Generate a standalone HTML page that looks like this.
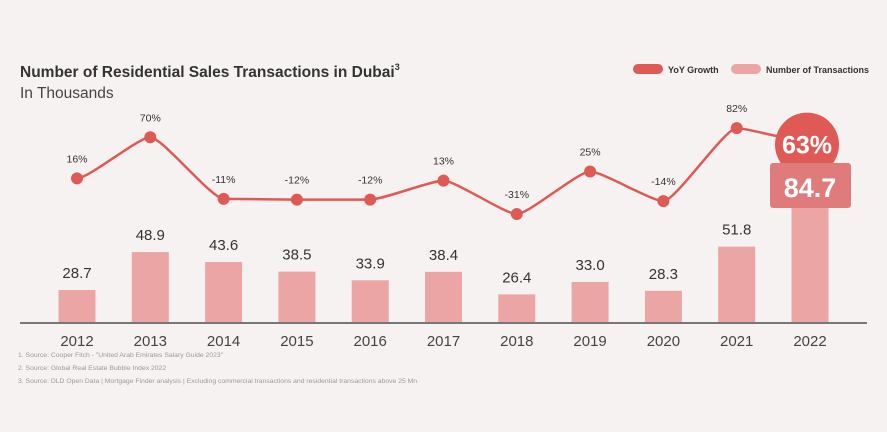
<!DOCTYPE html>
<html><head><meta charset="utf-8"><style>
body{margin:0;background:#f7f2f2;font-family:"Liberation Sans",sans-serif;}
svg{display:block}
</style></head><body>
<svg id="c" width="887" height="432" viewBox="0 0 887 432">
<rect width="887" height="432" fill="#f7f2f2"/>
<text x="20" y="77" font-size="15.5" font-weight="bold" fill="#333">Number of Residential Sales Transactions in Dubai<tspan font-size="9" dy="-7">3</tspan></text>
<text x="20" y="98" font-size="15.5" fill="#444">In Thousands</text>
<g>
<rect x="633" y="64" width="30" height="10" rx="5" fill="#e05a55"/>
<text x="668" y="73" font-size="9" font-weight="bold" fill="#333">YoY Growth</text>
<rect x="731" y="64" width="30" height="10" rx="5" fill="#eba5a5"/>
<text x="766" y="73" font-size="9" font-weight="bold" fill="#333">Number of Transactions</text>
</g>
<g id="bars"></g><g id="line"></g>
<line x1="20" y1="323" x2="867" y2="323" stroke="#777" stroke-width="2"/>
<g id="xl"></g>
<g font-size="6.8" fill="#999">
<text x="18" y="357">1. Source: Cooper Fitch - "United Arab Emirates Salary Guide 2023"</text>
<text x="18" y="370">2. Source: Global Real Estate Bubble Index 2022</text>
<text x="18" y="383">3. Source: DLD Open Data | Mortgage Finder analysis | Excluding commercial transactions and residential transactions above 25 Mn</text>
</g>
</svg>
<script>
const years=["2012","2013","2014","2015","2016","2017","2018","2019","2020","2021","2022"];
const transactions=[28.7,48.9,43.6,38.5,33.9,38.4,26.4,33.0,28.3,51.8,84.7];
const growth=[16,70,-11,-12,-12,13,-31,25,-14,82,63];
const NS="http://www.w3.org/2000/svg";
const xc=i=>77+i*73.3;
const bh=v=>Math.max(0,1.88*v-21);
const yg=v=>190.5-0.76*v;
function mk(t,a,p){const e=document.createElementNS(NS,t);for(const k in a)e.setAttribute(k,a[k]);p.appendChild(e);return e;}
const B=document.getElementById('bars'),L=document.getElementById('line'),X=document.getElementById('xl');
const last=years.length-1;
years.forEach((y,i)=>{
 const h=bh(transactions[i]);
 const r=mk('rect',{x:xc(i)-18.5,y:323-h,width:37,height:h,fill:'#eba5a5'},B);
 
 
 const xt=mk('text',{x:xc(i),y:346,'font-size':15,fill:'#444','text-anchor':'middle'},X);xt.textContent=y;
 
 
 if(i<last){
  const t=mk('text',{x:xc(i),y:323-h-12,'font-size':15,fill:'#333','text-anchor':'middle'},B);t.textContent=transactions[i].toFixed(1);
  
  
 }
});
let d='';
growth.forEach((g,i)=>{const x=xc(i),y=yg(g);if(i==0)d+='M'+x+' '+y;else{const px=xc(i-1),py=yg(growth[i-1]);d+=` C${px+12} ${py} ${x-12} ${y} ${x} ${y}`;}});
const p=mk('path',{d:d,fill:'none',stroke:'#e05a55','stroke-width':2.5},L);


growth.forEach((g,i)=>{
 if(i==last)return;
 const c=mk('circle',{cx:xc(i),cy:yg(g),r:6,fill:'#e05a55'},L);
 
 
 const t=mk('text',{x:xc(i),y:yg(g)-16,'font-size':10.5,fill:'#333','text-anchor':'middle'},L);t.textContent=g+'%';
 
 
});
const lx=xc(last)-3,ly=yg(growth[last])+2;
const bc=mk('circle',{cx:lx,cy:ly,r:32,fill:'#e05a55'},L);


const bt=mk('text',{x:lx,y:ly+9,'font-size':25,'font-weight':'bold',fill:'#fff','text-anchor':'middle'},L);bt.textContent=growth[last]+'%';


const bx=mk('rect',{x:lx-37,y:163,width:81,height:45,rx:3,fill:'#e07b7b'},L);


const bv=mk('text',{x:lx+3,y:197,'font-size':27,'font-weight':'bold',fill:'#fff','text-anchor':'middle'},L);bv.textContent=transactions[last].toFixed(1);


</script>
</body></html>
